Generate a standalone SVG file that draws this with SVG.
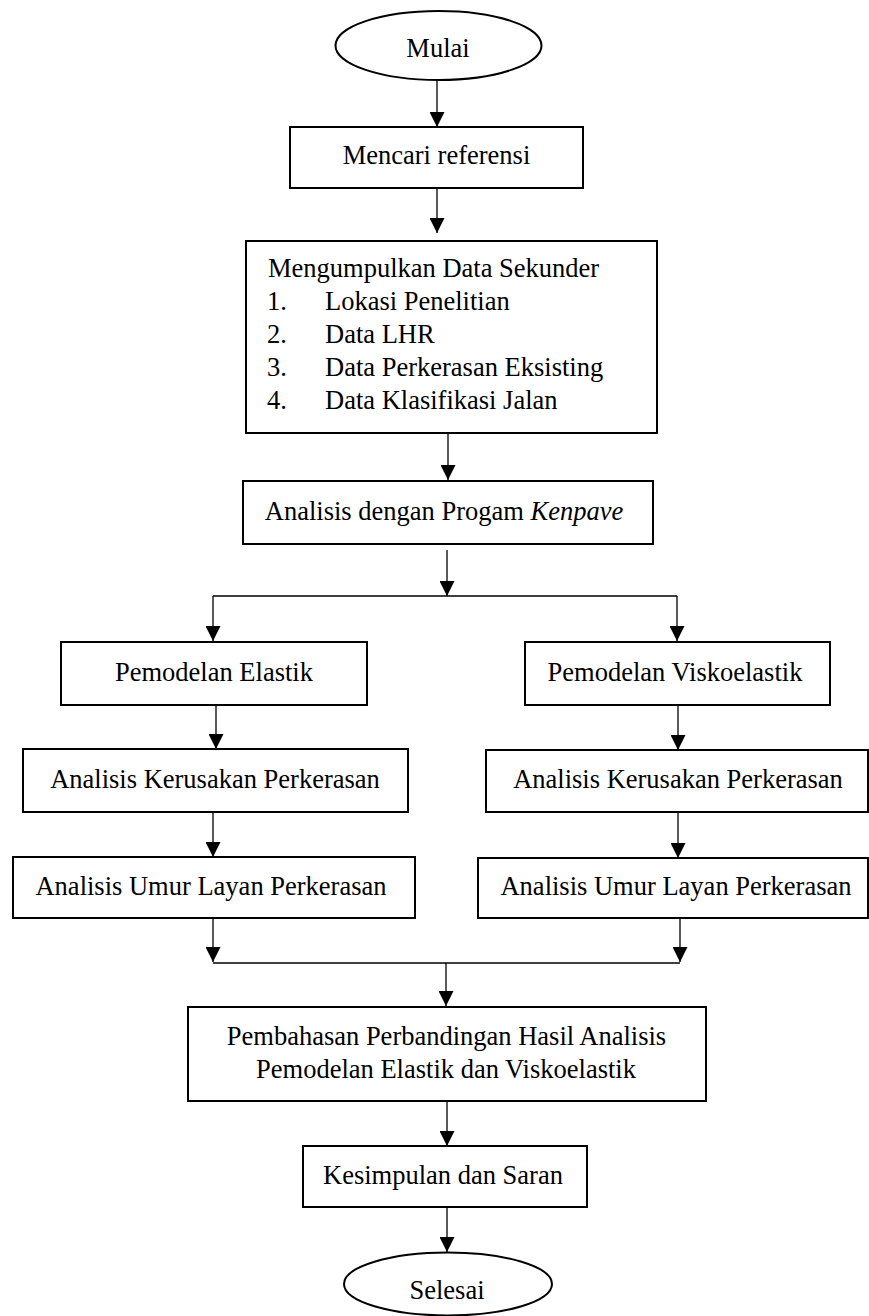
<svg xmlns="http://www.w3.org/2000/svg" width="869" height="1316" viewBox="0 0 869 1316">
  <style>
    .box { fill: #fff; stroke: #000; stroke-width: 2; }
    .term { fill: #fff; stroke: #000; stroke-width: 2; }
    .lbl { font-family: "Liberation Serif", "Times New Roman", serif; font-size: 26.5px; fill: #000; }
    .mid { text-anchor: middle; }
    .wire { fill: none; stroke: #000; stroke-width: 1.3; }
    .arr { marker-end: url(#head); }
  </style>
  <defs>
    <marker id="head" markerUnits="userSpaceOnUse" markerWidth="15" markerHeight="15" refX="15" refY="7.5" orient="auto">
      <path d="M0,0 L15,7.5 L0,15 z" fill="#000"/>
    </marker>
  </defs>
  <rect width="869" height="1316" fill="#fff"/>

  <!-- connectors -->
  <g id="connectors">
    <path class="wire arr" d="M437,80 V127"/>
    <path class="wire arr" d="M437,188 V233"/>
    <path class="wire arr" d="M448,433 V480"/>
    <path class="wire arr" d="M447,550 V596"/>
    <path class="wire" d="M213,596 H677"/>
    <path class="wire arr" d="M213,596 V641"/>
    <path class="wire arr" d="M677,596 V641"/>
    <path class="wire arr" d="M216,705 V749"/>
    <path class="wire arr" d="M678,705 V750"/>
    <path class="wire arr" d="M213,812 V857"/>
    <path class="wire arr" d="M678,812 V858"/>
    <path class="wire arr" d="M213,918 V962"/>
    <path class="wire arr" d="M680,918 V962"/>
    <path class="wire" d="M213,963 H680"/>
    <path class="wire arr" d="M446,963 V1006"/>
    <path class="wire arr" d="M447,1101 V1146"/>
    <path class="wire arr" d="M447,1207 V1252"/>
  </g>

  <!-- start -->
  <g id="mulai">
    <ellipse class="term" cx="438.5" cy="45.5" rx="103" ry="34.5"/>
    <text class="lbl mid" x="438" y="57">Mulai</text>
  </g>

  <g id="mencari-referensi">
    <rect class="box" x="290" y="127" width="293" height="61"/>
    <text class="lbl mid" x="436.5" y="164">Mencari referensi</text>
  </g>

  <g id="data-sekunder">
    <rect class="box" x="246" y="241" width="411" height="192"/>
    <text class="lbl" x="268" y="277">Mengumpulkan Data Sekunder</text>
    <text class="lbl" x="267" y="310">1.</text>
    <text class="lbl" x="325" y="310">Lokasi Penelitian</text>
    <text class="lbl" x="267" y="343">2.</text>
    <text class="lbl" x="325" y="343">Data LHR</text>
    <text class="lbl" x="267" y="376">3.</text>
    <text class="lbl" x="325" y="376">Data Perkerasan Eksisting</text>
    <text class="lbl" x="267" y="409">4.</text>
    <text class="lbl" x="325" y="409">Data Klasifikasi Jalan</text>
  </g>

  <g id="kenpave">
    <rect class="box" x="243" y="481" width="410" height="63"/>
    <text class="lbl mid" x="444" y="520">Analisis dengan Progam <tspan font-style="italic">Kenpave</tspan></text>
  </g>

  <g id="pemodelan-elastik">
    <rect class="box" x="61" y="642" width="306" height="63"/>
    <text class="lbl mid" x="214" y="681">Pemodelan Elastik</text>
  </g>

  <g id="pemodelan-viskoelastik">
    <rect class="box" x="525" y="642" width="305" height="63"/>
    <text class="lbl mid" x="675" y="681">Pemodelan Viskoelastik</text>
  </g>

  <g id="kerusakan-elastik">
    <rect class="box" x="23" y="749" width="385" height="63"/>
    <text class="lbl mid" x="215" y="788">Analisis Kerusakan Perkerasan</text>
  </g>

  <g id="kerusakan-viskoelastik">
    <rect class="box" x="486" y="750" width="382" height="62"/>
    <text class="lbl mid" x="678" y="788">Analisis Kerusakan Perkerasan</text>
  </g>

  <g id="umur-elastik">
    <rect class="box" x="13" y="857" width="402" height="61"/>
    <text class="lbl mid" x="211" y="895">Analisis Umur Layan Perkerasan</text>
  </g>

  <g id="umur-viskoelastik">
    <rect class="box" x="478" y="858" width="390" height="60"/>
    <text class="lbl mid" x="676" y="895">Analisis Umur Layan Perkerasan</text>
  </g>

  <g id="pembahasan">
    <rect class="box" x="188" y="1007" width="518" height="94"/>
    <text class="lbl mid" x="446.5" y="1045">Pembahasan Perbandingan Hasil Analisis</text>
    <text class="lbl mid" x="446" y="1078">Pemodelan Elastik dan Viskoelastik</text>
  </g>

  <g id="kesimpulan">
    <rect class="box" x="303" y="1146" width="284" height="61"/>
    <text class="lbl mid" x="443" y="1184">Kesimpulan dan Saran</text>
  </g>

  <!-- end -->
  <g id="selesai">
    <ellipse class="term" cx="448" cy="1284" rx="104" ry="31.5"/>
    <text class="lbl mid" x="447" y="1299">Selesai</text>
  </g>
</svg>
